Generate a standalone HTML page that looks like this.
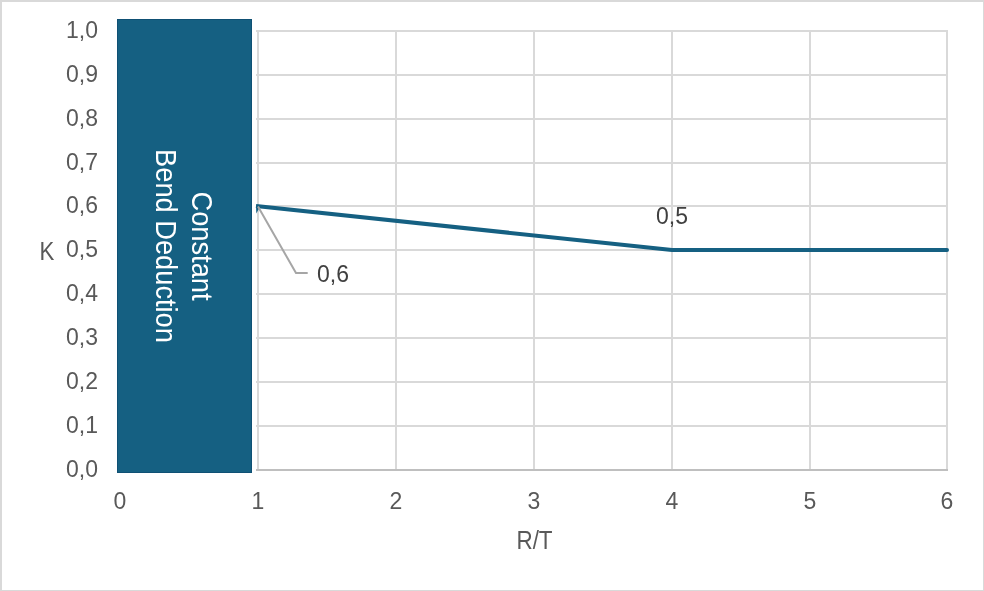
<!DOCTYPE html>
<html><head><meta charset="utf-8"><style>
html,body{margin:0;padding:0;background:#fff;}
svg{display:block;will-change:transform;}
text{font-family:'Liberation Sans', sans-serif;}
</style></head><body>
<svg width="984" height="591" viewBox="0 0 984 591">
<rect x="0" y="0" width="984" height="591" fill="#fff"/>
<rect x="0" y="0" width="984" height="2" fill="#d9d9d9"/>
<rect x="0" y="0" width="2" height="591" fill="#d9d9d9"/>
<rect x="983" y="0" width="1" height="591" fill="#d9d9d9"/>
<rect x="0" y="590" width="984" height="1" fill="#d9d9d9"/>
<g stroke="#d9d9d9" stroke-width="2">
<line x1="256" y1="31" x2="948" y2="31"/><line x1="256" y1="75" x2="948" y2="75"/><line x1="256" y1="119" x2="948" y2="119"/><line x1="256" y1="163" x2="948" y2="163"/><line x1="256" y1="206" x2="948" y2="206"/><line x1="256" y1="250" x2="948" y2="250"/><line x1="256" y1="294" x2="948" y2="294"/><line x1="256" y1="338" x2="948" y2="338"/><line x1="256" y1="382" x2="948" y2="382"/><line x1="256" y1="426" x2="948" y2="426"/><line x1="258" y1="30" x2="258" y2="470"/><line x1="396" y1="30" x2="396" y2="470"/><line x1="534" y1="30" x2="534" y2="470"/><line x1="672" y1="30" x2="672" y2="470"/><line x1="810" y1="30" x2="810" y2="470"/><line x1="947" y1="30" x2="947" y2="470"/>
</g>
<line x1="256" y1="470" x2="948" y2="470" stroke="#bfbfbf" stroke-width="2"/>
<g font-size="23" fill="#595959">
<text x="98" y="37.5" text-anchor="end">1,0</text><text x="98" y="81.5" text-anchor="end">0,9</text><text x="98" y="125.5" text-anchor="end">0,8</text><text x="98" y="169.5" text-anchor="end">0,7</text><text x="98" y="212.5" text-anchor="end">0,6</text><text x="98" y="256.5" text-anchor="end">0,5</text><text x="98" y="300.5" text-anchor="end">0,4</text><text x="98" y="344.5" text-anchor="end">0,3</text><text x="98" y="388.5" text-anchor="end">0,2</text><text x="98" y="432.5" text-anchor="end">0,1</text><text x="98" y="476.5" text-anchor="end">0,0</text>
<text x="120.0" y="508.5" text-anchor="middle">0</text><text x="258.0" y="508.5" text-anchor="middle">1</text><text x="396.0" y="508.5" text-anchor="middle">2</text><text x="534.0" y="508.5" text-anchor="middle">3</text><text x="672.0" y="508.5" text-anchor="middle">4</text><text x="810.0" y="508.5" text-anchor="middle">5</text><text x="947.0" y="508.5" text-anchor="middle">6</text>
</g>
<text transform="translate(47,260) scale(0.86,1)" font-size="25.8" fill="#595959" text-anchor="middle">K</text>
<text transform="translate(534.5,549) scale(0.87,1)" font-size="25.8" fill="#595959" text-anchor="middle">R/T</text>
<polyline points="256,206 672,250 947,250" fill="none" stroke="#156082" stroke-width="4" stroke-linejoin="round"/>
<circle cx="947" cy="250" r="2" fill="#156082"/>
<polygon points="256,205 256.3,213.5 259.5,207.5" fill="#156082"/>
<polyline points="258,206.5 296,273 307.7,273" fill="none" stroke="#a6a6a6" stroke-width="2"/>
<g font-size="23" fill="#404040">
<text x="317" y="281.5">0,6</text>
<text x="656" y="224">0,5</text>
</g>
<rect x="117" y="19" width="135" height="454" fill="#0f5074"/><rect x="118" y="20" width="133" height="452" fill="#156082"/>
<g transform="translate(184.5,246) rotate(90) scale(0.94,1)" font-size="29" fill="#fff" text-anchor="middle">
<text x="0" y="-8">Constant</text>
<text x="0" y="28.5">Bend Deduction</text>
</g>
</svg>
</body></html>
